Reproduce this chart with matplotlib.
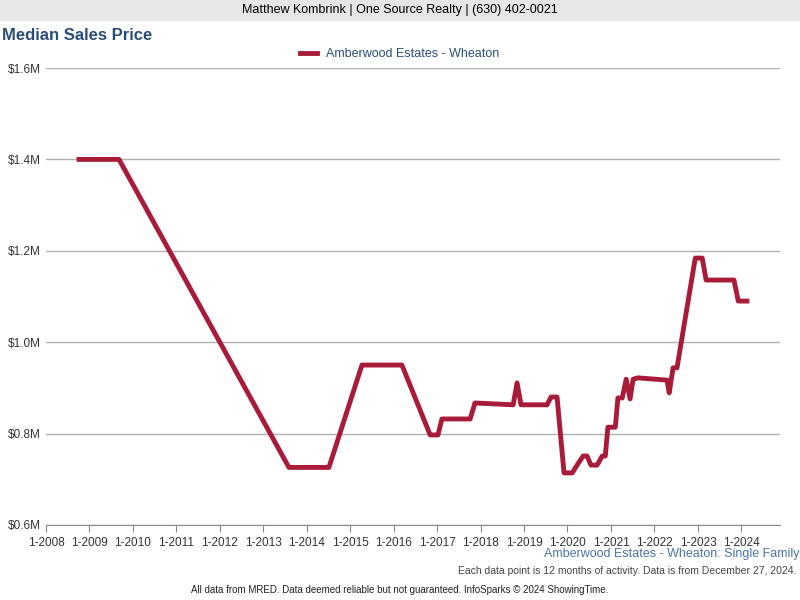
import matplotlib
matplotlib.use("Agg")
import matplotlib.pyplot as plt
from matplotlib.patches import Rectangle
from matplotlib.lines import Line2D

# decimal year, median price ($M)
years = [2008.76, 2009.68, 2013.59, 2014.51, 2015.27, 2016.19, 2016.84, 2017.02, 2017.11,
         2017.76, 2017.87, 2018.75, 2018.84, 2018.93, 2019.53, 2019.62, 2019.76, 2019.92,
         2020.11, 2020.22, 2020.36, 2020.45, 2020.54, 2020.68, 2020.80, 2020.87, 2020.93,
         2021.10, 2021.16, 2021.26, 2021.35, 2021.44, 2021.51, 2021.62, 2022.29, 2022.34,
         2022.43, 2022.52, 2022.94, 2023.10, 2023.19, 2023.83, 2023.93, 2024.13]
prices = [1.40, 1.40, 0.726, 0.726, 0.95, 0.95, 0.797, 0.797, 0.832,
          0.832, 0.867, 0.863, 0.911, 0.863, 0.863, 0.88, 0.88, 0.714,
          0.714, 0.731, 0.751, 0.751, 0.731, 0.731, 0.751, 0.751, 0.814,
          0.814, 0.878, 0.878, 0.919, 0.876, 0.919, 0.922, 0.917, 0.889,
          0.944, 0.944, 1.184, 1.184, 1.136, 1.136, 1.09, 1.09]
xtick_years = list(range(2008, 2025))
ytick_vals = [0.6, 0.8, 1.0, 1.2, 1.4, 1.6]

red = "#a81c3a"
blue = "#2a4e7a"

fig = plt.figure(figsize=(8, 6), dpi=100)
fig.patches.append(Rectangle((0, 580 / 600), 1, 20 / 600, transform=fig.transFigure,
                             color="#e6e6e6", zorder=0))
fig.text(0.5, 590 / 600, "Matthew Kombrink | One Source Realty | (630) 402-0021",
         ha="center", va="center", fontsize=9, family="Liberation Sans")
fig.text(0.003, 565 / 600, "Median Sales Price", ha="left", va="center", fontsize=12,
         fontweight="bold", color=blue, family="Liberation Sans")

ax = fig.add_axes([46 / 800, 75 / 600, 734 / 800, 457 / 600])
ax.plot(years, prices, color=red, lw=3.5, solid_joinstyle="round")
ax.set_xlim(2008, 2024.89)
ax.set_ylim(0.6, 1.6)
ax.set_xticks(xtick_years)
ax.set_xticklabels(["1-%d" % y for y in xtick_years], fontsize=8.5, family="Liberation Sans",
                   color="#333333")
ax.set_yticks(ytick_vals)
ax.set_yticklabels(["$%.1fM" % v for v in ytick_vals], fontsize=8.5, family="Liberation Sans",
                   color="#333333")
ax.grid(axis="y", color="#b0b0b0", lw=1)
ax.set_axisbelow(True)
for s in ["top", "right", "left"]:
    ax.spines[s].set_visible(False)
ax.spines["bottom"].set_color("#888888")
ax.tick_params(axis="x", length=5, color="#888888")
ax.tick_params(axis="y", length=0)

fig.legend(handles=[Line2D([], [], color=red, lw=3.5)], labels=["Amberwood Estates - Wheaton"],
           loc="center", bbox_to_anchor=(0.5, 546 / 600), frameon=False, handlelength=1.3,
           prop={"family": "Liberation Sans", "size": 9}, labelcolor=blue)

fig.text(0.999, 46 / 600, "Amberwood Estates - Wheaton: Single Family", ha="right", va="center",
         fontsize=9, color="#4a74a8", family="Liberation Sans")
fig.text(0.995, 29 / 600, "Each data point is 12 months of activity. Data is from December 27, 2024.",
         ha="right", va="center", fontsize=7.5, color="#444444", family="Liberation Sans")
fig.text(0.5, 10 / 600, "All data from MRED. Data deemed reliable but not guaranteed. InfoSparks \u00a9 2024 ShowingTime.",
         ha="center", va="center", fontsize=7, color="#222222", family="Liberation Sans")

fig.savefig("out.png", dpi=100)
